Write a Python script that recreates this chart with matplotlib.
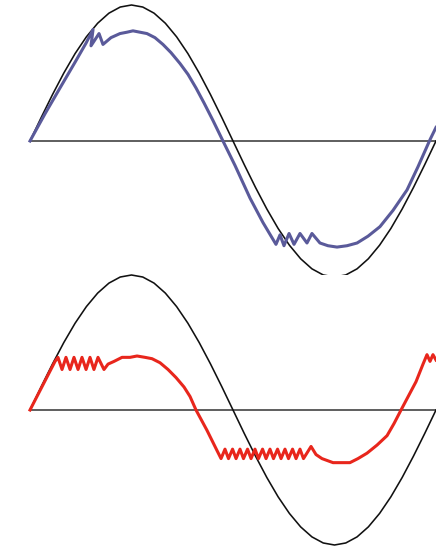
import matplotlib
matplotlib.use("Agg")
import matplotlib.pyplot as plt

# reference sine (degrees, amplitude units)
ref_deg = [0, 10, 20, 30, 40, 50, 60, 70, 80, 90, 100, 110, 120, 130, 140, 150, 160, 170, 180,
           190, 200, 210, 220, 230, 240, 250, 260, 270, 280, 290, 300, 310, 320, 330, 340, 350, 360]
ref_val = [0, .174, .342, .5, .643, .766, .866, .94, .985, 1, .985, .94, .866, .766, .643, .5, .342, .174, 0,
           -.174, -.342, -.5, -.643, -.766, -.866, -.94, -.985, -1, -.985, -.94, -.866, -.766, -.643, -.5, -.342, -.174, 0]

# distorted wave, top panel (blue)
blue_deg = [0, 13.3, 26.6, 40.0, 49.7, 55.9, 54.1, 61.2, 64.7, 71.8, 79.8, 86.0, 91.3, 97.5, 103.7, 110.8,
            117.9, 125.0, 133.0, 140.1, 147.2, 154.3, 162.3, 171.1, 181.8, 195.1, 206.6, 218.1,
            221.7, 225.2, 229.7, 234.1, 239.4, 245.6, 250.0, 257.1, 264.2, 272.2, 281.1, 290.0,
            299.7, 310.3, 321.9, 334.3, 344.0, 354.7, 360.0]
blue_val = [0, .20, .39, .58, .72, .82, .70, .79, .71, .76, .79, .80, .81, .80, .79, .76,
            .71, .65, .57, .49, .39, .28, .15, 0, -.18, -.42, -.60, -.76,
            -.69, -.77, -.68, -.76, -.68, -.75, -.68, -.75, -.77, -.78, -.77, -.75,
            -.70, -.63, -.51, -.36, -.19, .01, .10]

# distorted wave, bottom panel (red)
red_deg = [0, 22.2, 24.8, 28.4, 31.9, 35.5, 39.0, 42.6, 46.1, 49.7, 53.2, 56.7, 60.3, 65.6,
           69.2, 74.5, 81.6, 88.7, 94.9, 102.0, 108.2, 115.3, 122.4, 129.5, 136.6, 141.9, 147.2,
           156.9, 165.8,
           169.4, 172.9, 176.0, 179.6, 182.7, 186.2, 189.3, 192.9, 196.0, 199.5, 202.6, 206.2,
           209.3, 212.8, 215.9, 219.5, 222.6, 226.1, 229.2, 232.8, 235.9, 239.4, 242.5, 249.2,
           253.6, 258.9, 268.7, 276.6, 283.7, 290.8, 298.8, 307.7, 316.6, 322.8, 329.0,
           342.3, 348.5, 352.0, 354.7, 357.3, 360.0]
red_val = [0, .36, .39, .30, .39, .30, .39, .30, .39, .30, .39, .30, .39, .30,
           .34, .36, .39, .39, .40, .39, .38, .35, .30, .24, .17, .10, 0,
           -.15, -.30,
           -.36, -.29, -.36, -.29, -.36, -.29, -.36, -.29, -.36, -.29, -.36, -.29,
           -.36, -.29, -.36, -.29, -.36, -.29, -.36, -.29, -.36, -.29, -.36, -.27,
           -.33, -.36, -.39, -.39, -.39, -.36, -.32, -.26, -.19, -.10, 0,
           .21, .34, .41, .36, .41, .37]

W, H = 436, 547
fig = plt.figure(figsize=(W / 100, H / 100), dpi=100)

ax_top = fig.add_axes([0, 1 - 275 / H, 1, 275 / H])
ax_bot = fig.add_axes([0, 0, 1, 275 / H])

ax_top.set_ylim(-134 / 136, 141 / 136)
ax_bot.set_ylim(-137 / 135, 138 / 135)

for ax, d, v, c in [(ax_top, blue_deg, blue_val, "#5a5a9a"), (ax_bot, red_deg, red_val, "#e8261c")]:
    ax.set_xlim(-26.6, 360)
    ax.plot([0, 360], [0, 0], color="#333333", lw=1.1, solid_capstyle="butt")
    ax.plot(ref_deg, ref_val, color="#111111", lw=1.15)
    ax.plot(d, v, color=c, lw=2.2, solid_joinstyle="round")
    ax.axis("off")
    ax.patch.set_alpha(0)

fig.savefig("out.png", dpi=100, facecolor="white")
